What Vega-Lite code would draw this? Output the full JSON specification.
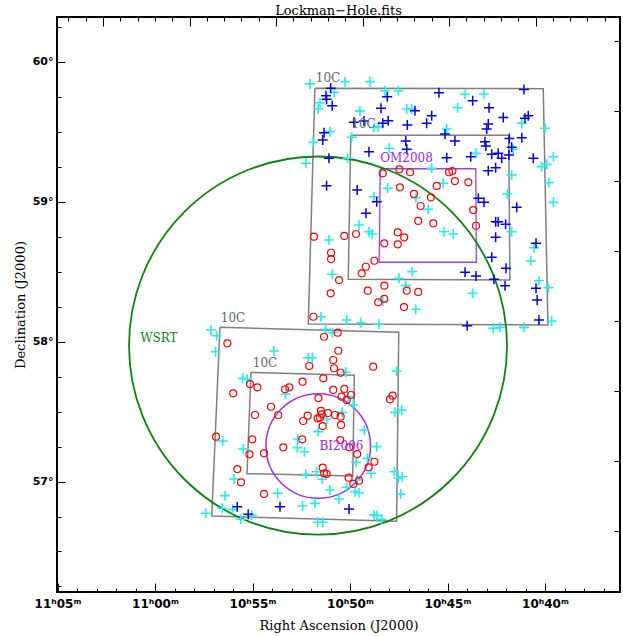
{
"$schema":"https://vega.github.io/schema/vega-lite/v6.json",
"width":563,"height":575,
"autosize":{"type":"none"},
"padding":{"left":57,"top":17,"right":3,"bottom":44},
"background":"white",
"title":{"text":"Lockman−Hole.fits","font":"DejaVu Serif","fontSize":13,"fontWeight":"normal","offset":-1,"anchor":"middle","color":"#000"},
"config":{"view":{"stroke":"#000","strokeWidth":2},"axis":{"domain":false,"grid":false,"tickColor":"#000","tickWidth":1,"labelColor":"#000","titleColor":"#000"}},
"datasets":{
"boxes":[
{"box":"u1","i":0,"ra":51.80,"dec":59.809},{"box":"u1","i":1,"ra":40.09,"dec":59.806},{"box":"u1","i":2,"ra":39.85,"dec":58.118},{"box":"u1","i":3,"ra":52.14,"dec":58.125},{"box":"u1","i":4,"ra":51.80,"dec":59.809},
{"box":"u2","i":0,"ra":49.96,"dec":59.473},{"box":"u2","i":1,"ra":41.86,"dec":59.473},{"box":"u2","i":2,"ra":41.80,"dec":58.439},{"box":"u2","i":3,"ra":50.09,"dec":58.444},{"box":"u2","i":4,"ra":49.96,"dec":59.473},
{"box":"l1","i":0,"ra":56.67,"dec":58.101},{"box":"l1","i":1,"ra":47.50,"dec":58.066},{"box":"l1","i":2,"ra":47.61,"dec":56.716},{"box":"l1","i":3,"ra":57.09,"dec":56.754},{"box":"l1","i":4,"ra":56.67,"dec":58.101},
{"box":"l2","i":0,"ra":55.08,"dec":57.78},{"box":"l2","i":1,"ra":49.78,"dec":57.759},{"box":"l2","i":2,"ra":49.86,"dec":57.039},{"box":"l2","i":3,"ra":55.28,"dec":57.056},{"box":"l2","i":4,"ra":55.08,"dec":57.78}
],
"om":[
{"i":0,"ra":48.45,"dec":59.234},{"i":1,"ra":43.55,"dec":59.234},{"i":2,"ra":43.52,"dec":58.566},{"i":3,"ra":48.50,"dec":58.566},{"i":4,"ra":48.45,"dec":59.234}
],
"wsrt":[{"ra":51.64,"dec":57.971}],
"bi":[{"ra":51.63,"dec":57.254}],
"labels":[
{"t":"10C","kind":"10C","ra":51.13,"dec":59.882},
{"t":"10C","kind":"10C","ra":49.31,"dec":59.554},
{"t":"OM2008","kind":"OM2008","ra":47.10,"dec":59.311},
{"t":"10C","kind":"10C","ra":56.00,"dec":58.168},
{"t":"10C","kind":"10C","ra":54.36,"dec":57.846},
{"t":"BI2006","kind":"BI2006","ra":50.44,"dec":57.254},
{"t":"WSRT","kind":"WSRT","ra":59.80,"dec":58.025}
],
"cyan":[
{"ra":52.05,"dec":59.84},{"ra":50.26,"dec":59.856},{"ra":48.97,"dec":59.856},{"ra":50.81,"dec":59.78},{"ra":51.54,"dec":59.706},{"ra":51.63,"dec":59.661},{"ra":48.21,"dec":59.791},{"ra":47.52,"dec":59.791},{"ra":49.49,"dec":59.646},{"ra":47.09,"dec":59.661},{"ra":46.84,"dec":59.661},{"ra":51.03,"dec":59.499},{"ra":48.55,"dec":59.534},{"ra":48.77,"dec":59.529},{"ra":51.88,"dec":59.423},{"ra":49.91,"dec":59.459},{"ra":47.99,"dec":59.38},{"ra":52.26,"dec":59.273},{"ra":50.12,"dec":59.309},{"ra":45.81,"dec":59.237},{"ra":48.07,"dec":59.094},{"ra":48.77,"dec":59.034},{"ra":46.62,"dec":59.027},{"ra":44.10,"dec":59.768},{"ra":43.13,"dec":59.768},{"ra":44.48,"dec":59.67},{"ra":41.19,"dec":59.559},{"ra":40.00,"dec":59.523},{"ra":45.04,"dec":59.518},{"ra":43.54,"dec":59.344},{"ra":41.63,"dec":59.373},{"ra":39.57,"dec":59.32},{"ra":40.17,"dec":59.249},{"ra":39.91,"dec":59.266},{"ra":41.71,"dec":59.189},{"ra":45.22,"dec":59.13},{"ra":39.80,"dec":59.134},{"ra":41.93,"dec":59.054},{"ra":39.57,"dec":58.994},{"ra":45.99,"dec":58.944},{"ra":49.54,"dec":58.832},{"ra":49.03,"dec":58.784},{"ra":48.86,"dec":58.768},{"ra":51.08,"dec":58.725},{"ra":50.91,"dec":58.48},{"ra":46.81,"dec":58.499},{"ra":47.49,"dec":58.451},{"ra":47.14,"dec":58.399},{"ra":48.32,"dec":58.289},{"ra":46.63,"dec":58.23},{"ra":51.49,"dec":58.177},{"ra":50.17,"dec":58.154},{"ra":49.44,"dec":58.134},{"ra":48.51,"dec":58.123},{"ra":51.25,"dec":58.087},{"ra":50.90,"dec":58.063},{"ra":45.18,"dec":58.784},{"ra":44.70,"dec":58.768},{"ra":41.71,"dec":58.784},{"ra":40.56,"dec":58.67},{"ra":40.73,"dec":58.575},{"ra":40.31,"dec":58.434},{"ra":39.83,"dec":58.384},{"ra":43.71,"dec":58.344},{"ra":39.66,"dec":58.146},{"ra":42.65,"dec":58.094},{"ra":42.31,"dec":58.101},{"ra":41.08,"dec":58.101},
{"ra":57.13,"dec":58.082},{"ra":56.84,"dec":58.041},{"ra":56.89,"dec":57.927},{"ra":53.90,"dec":57.932},{"ra":55.50,"dec":57.737},{"ra":55.27,"dec":57.73},{"ra":53.30,"dec":57.625},{"ra":52.14,"dec":57.884},{"ra":51.93,"dec":57.884},{"ra":50.22,"dec":57.78},{"ra":47.61,"dec":57.789},{"ra":50.09,"dec":57.606},{"ra":49.83,"dec":57.546},{"ra":47.69,"dec":57.494},{"ra":47.35,"dec":57.511},{"ra":50.40,"dec":57.494},{"ra":51.20,"dec":57.446},{"ra":56.53,"dec":57.289},{"ra":55.47,"dec":57.232},{"ra":52.68,"dec":57.304},{"ra":51.63,"dec":57.356},{"ra":49.27,"dec":57.368},{"ra":48.63,"dec":57.249},{"ra":52.70,"dec":57.241},{"ra":52.34,"dec":57.213},{"ra":49.11,"dec":57.166},{"ra":49.69,"dec":57.137},{"ra":48.92,"dec":57.059},{"ra":52.26,"dec":57.051},{"ra":51.71,"dec":57.07},{"ra":51.42,"dec":57.016},{"ra":47.73,"dec":57.07},{"ra":47.52,"dec":57.023},{"ra":47.32,"dec":57.034},{"ra":47.40,"dec":56.911},{"ra":55.95,"dec":57.018},{"ra":49.63,"dec":57.011},{"ra":51.03,"dec":56.939},{"ra":50.17,"dec":56.959},{"ra":50.56,"dec":56.875},{"ra":49.74,"dec":56.927},{"ra":49.54,"dec":56.92},{"ra":53.71,"dec":56.916},{"ra":51.80,"dec":56.844},{"ra":52.43,"dec":56.825},{"ra":56.41,"dec":56.899},{"ra":56.55,"dec":56.809},{"ra":57.40,"dec":56.773},{"ra":56.02,"dec":56.801},{"ra":55.61,"dec":56.73},{"ra":55.04,"dec":56.761},{"ra":51.66,"dec":56.709},{"ra":51.40,"dec":56.709},{"ra":48.77,"dec":56.761},{"ra":48.63,"dec":56.756},{"ra":48.38,"dec":56.73}
],
"blue":[
{"ra":55.78,"dec":56.82},{"ra":53.59,"dec":56.82},{"ra":55.22,"dec":56.766},{"ra":50.05,"dec":56.804},
{"ra":50.99,"dec":59.809},{"ra":51.23,"dec":59.756},{"ra":51.20,"dec":59.73},{"ra":50.91,"dec":59.684},{"ra":48.09,"dec":59.749},{"ra":48.41,"dec":59.666},{"ra":46.67,"dec":59.649},{"ra":45.81,"dec":59.613},{"ra":46.07,"dec":59.559},{"ra":49.80,"dec":59.566},{"ra":49.28,"dec":59.575},{"ra":48.32,"dec":59.559},{"ra":48.04,"dec":59.577},{"ra":47.06,"dec":59.546},{"ra":51.33,"dec":59.491},{"ra":51.40,"dec":59.439},{"ra":47.14,"dec":59.432},{"ra":47.09,"dec":59.373},{"ra":49.03,"dec":59.356},{"ra":51.08,"dec":59.309},{"ra":51.20,"dec":59.113},{"ra":49.63,"dec":59.082},{"ra":48.63,"dec":58.999},{"ra":45.44,"dec":59.777},{"ra":41.08,"dec":59.801},{"ra":43.71,"dec":59.72},{"ra":42.87,"dec":59.67},{"ra":42.14,"dec":59.601},{"ra":41.03,"dec":59.594},{"ra":40.86,"dec":59.613},{"ra":42.91,"dec":59.554},{"ra":42.99,"dec":59.518},{"ra":45.13,"dec":59.482},{"ra":44.62,"dec":59.432},{"ra":43.08,"dec":59.427},{"ra":43.03,"dec":59.396},{"ra":41.83,"dec":59.451},{"ra":41.19,"dec":59.456},{"ra":41.71,"dec":59.387},{"ra":45.04,"dec":59.313},{"ra":43.81,"dec":59.32},{"ra":42.73,"dec":59.337},{"ra":42.40,"dec":59.344},{"ra":42.22,"dec":59.309},{"ra":41.85,"dec":59.332},{"ra":40.60,"dec":59.309},{"ra":42.53,"dec":59.241},{"ra":42.91,"dec":59.22},{"ra":43.42,"dec":59.023},{"ra":43.13,"dec":58.994},{"ra":49.18,"dec":58.916},{"ra":41.45,"dec":58.959},{"ra":42.53,"dec":58.856},{"ra":42.40,"dec":58.856},{"ra":42.02,"dec":58.837},{"ra":42.53,"dec":58.744},{"ra":40.46,"dec":58.701},{"ra":42.73,"dec":58.601},{"ra":42.00,"dec":58.523},{"ra":44.10,"dec":58.494},{"ra":43.54,"dec":58.468},{"ra":42.62,"dec":58.444},{"ra":42.05,"dec":58.399},{"ra":40.46,"dec":58.38},{"ra":40.40,"dec":58.296},{"ra":40.31,"dec":58.154},{"ra":43.99,"dec":58.113}
],
"red":[
{"ra":48.32,"dec":59.201},{"ra":47.47,"dec":59.23},{"ra":46.92,"dec":59.209},{"ra":47.44,"dec":59.101},{"ra":46.72,"dec":59.054},{"ra":45.85,"dec":59.03},{"ra":46.38,"dec":58.968},{"ra":44.92,"dec":59.209},{"ra":44.75,"dec":59.218},{"ra":44.62,"dec":59.146},{"ra":43.93,"dec":59.137},{"ra":45.55,"dec":59.111},{"ra":46.50,"dec":58.861},{"ra":45.73,"dec":58.844},{"ra":51.85,"dec":58.749},{"ra":50.29,"dec":58.754},{"ra":49.69,"dec":58.768},{"ra":47.55,"dec":58.78},{"ra":47.22,"dec":58.744},{"ra":48.24,"dec":58.701},{"ra":47.55,"dec":58.694},{"ra":50.97,"dec":58.634},{"ra":50.97,"dec":58.589},{"ra":48.75,"dec":58.577},{"ra":49.19,"dec":58.534},{"ra":49.40,"dec":58.487},{"ra":50.56,"dec":58.439},{"ra":50.99,"dec":58.344},{"ra":49.09,"dec":58.363},{"ra":48.24,"dec":58.399},{"ra":47.09,"dec":58.363},{"ra":46.50,"dec":58.354},{"ra":48.24,"dec":58.304},{"ra":48.55,"dec":58.28},{"ra":47.23,"dec":58.246},{"ra":51.88,"dec":58.177},{"ra":43.68,"dec":58.939},{"ra":43.54,"dec":58.827},
{"ra":51.33,"dec":58.034},{"ra":50.63,"dec":58.063},{"ra":50.60,"dec":57.934},{"ra":50.86,"dec":57.868},{"ra":52.09,"dec":57.825},{"ra":50.82,"dec":57.809},{"ra":50.48,"dec":57.777},{"ra":48.81,"dec":57.82},{"ra":51.37,"dec":57.737},{"ra":50.86,"dec":57.654},{"ra":50.29,"dec":57.661},{"ra":49.95,"dec":57.618},{"ra":50.43,"dec":57.606},{"ra":50.17,"dec":57.582},{"ra":47.81,"dec":57.613},{"ra":47.95,"dec":57.587},{"ra":51.62,"dec":57.596},{"ra":51.13,"dec":57.489},{"ra":51.49,"dec":57.504},{"ra":51.45,"dec":57.48},{"ra":51.54,"dec":57.456},{"ra":51.66,"dec":57.451},{"ra":50.77,"dec":57.475},{"ra":50.48,"dec":57.463},{"ra":52.17,"dec":57.47},{"ra":50.46,"dec":57.404},{"ra":56.29,"dec":57.987},{"ra":55.99,"dec":57.63},{"ra":55.13,"dec":57.696},{"ra":54.75,"dec":57.673},{"ra":53.33,"dec":57.659},{"ra":53.11,"dec":57.673},{"ra":52.43,"dec":57.713},{"ra":54.05,"dec":57.534},{"ra":54.87,"dec":57.475},{"ra":53.68,"dec":57.475},{"ra":52.40,"dec":57.432},{"ra":56.87,"dec":57.32},{"ra":55.01,"dec":57.301},{"ra":52.45,"dec":57.301},{"ra":51.40,"dec":57.396},{"ra":53.42,"dec":57.244},{"ra":50.50,"dec":57.296},{"ra":50.04,"dec":57.244},{"ra":55.16,"dec":57.194},{"ra":54.41,"dec":57.201},{"ra":49.63,"dec":57.196},{"ra":48.75,"dec":57.141},{"ra":49.04,"dec":57.101},{"ra":55.78,"dec":57.089},{"ra":51.40,"dec":57.099},{"ra":51.33,"dec":57.059},{"ra":51.20,"dec":57.054},{"ra":50.07,"dec":57.027},{"ra":55.59,"dec":56.994},{"ra":49.54,"dec":57.006},{"ra":49.83,"dec":56.982},{"ra":54.41,"dec":56.911}
]
},
"resolve":{"axis":{"x":"independent","y":"independent"}},
"layer":[
{"data":{"name":"boxes"},
 "mark":{"type":"line","color":"#808080","strokeWidth":1.5,"clip":true},
 "encoding":{
  "x":{"field":"ra","type":"quantitative","scale":{"domain":[36.154,65.026],"reverse":true,"zero":false,"nice":false},
   "axis":{"orient":"bottom","values":[65,60,55,50,45,40],"tickSize":-9,"labelExpr":"(10 + floor(round(datum.value)/60)) + 'ʰ' + (round(datum.value) % 60 < 10 ? '0' : '') + (round(datum.value) % 60) + 'ᵐ'","labelFont":"DejaVu Sans","labelFontWeight":"bold","labelFontSize":12,"labelPadding":15,"labelFlush":false,"labelOverlap":false,"labelBound":false,"title":"Right Ascension (J2000)","titleFont":"DejaVu Serif","titleFontSize":13,"titleFontWeight":"normal","titlePadding":10}},
  "y":{"field":"dec","type":"quantitative","scale":{"domain":[56.2107,60.318],"zero":false,"nice":false},
   "axis":{"orient":"left","values":[57,58,59,60],"tickSize":-8,"labelExpr":"round(datum.value) + '°'","labelFont":"DejaVu Sans","labelFontWeight":"bold","labelFontSize":11,"labelPadding":12,"labelOverlap":false,"labelBound":false,"title":"Declination (J2000)","titleFont":"DejaVu Serif","titleFontSize":13,"titleFontWeight":"normal","titlePadding":5}},
  "detail":{"field":"box","type":"nominal"},
  "order":{"field":"i","type":"quantitative"}}},
{"data":{"name":"om"},
 "mark":{"type":"line","color":"#a040e8","strokeWidth":1.3},
 "encoding":{
  "x":{"field":"ra","type":"quantitative","axis":{"orient":"bottom","values":[64,63,62,61,59,58,57,56,54,53,52,51,49,48,47,46,44,43,42,41,39,38,37],"tickSize":-4,"labels":false,"title":null}},
  "y":{"field":"dec","type":"quantitative","axis":{"orient":"left","values":[56.25,56.5,56.75,57.25,57.5,57.75,58.25,58.5,58.75,59.25,59.5,59.75,60.25],"tickSize":-4,"labels":false,"title":null}},
  "order":{"field":"i","type":"quantitative"}}},
{"data":{"name":"wsrt"},
 "mark":{"type":"point","shape":"circle","filled":false,"color":"#0a870a","strokeWidth":1.8,"opacity":1,"size":142884},
 "encoding":{
  "x":{"field":"ra","type":"quantitative","axis":{"orient":"top","values":[62.667,58.231,53.795,49.359,44.923,40.487],"tickSize":-9,"labels":false,"title":null}},
  "y":{"field":"dec","type":"quantitative","axis":{"orient":"right","values":[60.15,59.65,59.15,58.65,58.15,57.65,57.15,56.65],"tickSize":-6,"labels":false,"title":null}}}},
{"data":{"name":"bi"},
 "mark":{"type":"point","shape":"circle","filled":false,"color":"#9b30ee","strokeWidth":1.5,"opacity":1,"size":10941},
 "encoding":{
  "x":{"field":"ra","type":"quantitative","axis":{"orient":"top","values":[64.441,63.554,61.78,60.893,60.006,59.118,57.344,56.457,55.569,54.682,52.908,52.021,51.133,50.246,48.472,47.585,46.697,45.81,44.036,43.149,42.261,41.374,39.6,38.713,37.825,36.938],"tickSize":-4,"labels":false,"title":null}},
  "y":{"field":"dec","type":"quantitative","axis":null}}},
{"data":{"name":"cyan"},
 "mark":{"type":"point","shape":"M-1,0L1,0M0,-1L0,1","filled":false,"color":"#22eef0","strokeWidth":1.6,"opacity":1,"size":100},
 "encoding":{"x":{"field":"ra","type":"quantitative","axis":null},"y":{"field":"dec","type":"quantitative","axis":null}}},
{"data":{"name":"blue"},
 "mark":{"type":"point","shape":"M-1,0L1,0M0,-1L0,1","filled":false,"color":"#0000ee","strokeWidth":1.5,"opacity":1,"size":100},
 "encoding":{"x":{"field":"ra","type":"quantitative","axis":null},"y":{"field":"dec","type":"quantitative","axis":null}}},
{"data":{"name":"red"},
 "mark":{"type":"point","shape":"circle","filled":false,"color":"#ff0000","strokeWidth":1.2,"opacity":1,"size":49},
 "encoding":{"x":{"field":"ra","type":"quantitative","axis":null},"y":{"field":"dec","type":"quantitative","axis":null}}},
{"data":{"name":"labels"},
 "mark":{"type":"text","font":"DejaVu Serif","fontSize":12,"align":"center","baseline":"middle"},
 "encoding":{"x":{"field":"ra","type":"quantitative","axis":null},"y":{"field":"dec","type":"quantitative","axis":null},
  "text":{"field":"t","type":"nominal"},
  "color":{"field":"kind","type":"nominal","legend":null,"scale":{"domain":["10C","OM2008","BI2006","WSRT"],"range":["#666666","#a020f0","#a020f0","#0a870a"]}}}}
]
}
